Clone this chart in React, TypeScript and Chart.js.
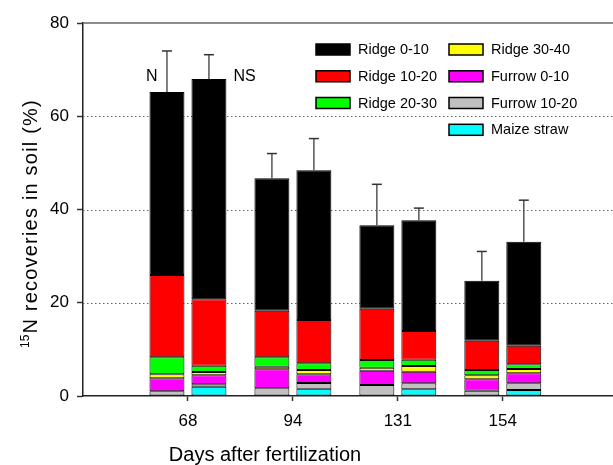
import React, { useEffect, useRef } from 'react';
import { Chart, registerables } from 'chart.js';

Chart.register(...registerables);

// ---- data ----
const days = ['68', '94', '131', '154'];
const treatmentLabels = ['N', 'NS'];
const seriesNames = ['Ridge 0-10', 'Ridge 10-20', 'Ridge 20-30', 'Ridge 30-40', 'Furrow 0-10', 'Furrow 10-20', 'Maize straw'];
const seriesColors = ['#000000', '#ff0000', '#00ff00', '#ffff00', '#ff00ff', '#c0c0c0', '#00ffff'];

// N treatment (left bar of each pair)
const ridge0_10N = [39.23, 28.4, 17.87, 12.83];
const ridge10_20N = [17.67, 10.0, 11.0, 6.29];
const ridge20_30N = [3.64, 2.01, 1.66, 1.14];
const ridge30_40N = [0.86, 0.56, 0.64, 0.86];
const furrow0_10N = [2.8, 4.08, 3.07, 2.44];
const furrow10_20N = [1.0, 1.65, 2.36, 1.14];

// NS treatment (right bar of each pair)
const ridge0_10NS = [47.25, 32.1, 23.75, 22.31];
const ridge10_20NS = [14.25, 9.29, 6.16, 3.99];
const ridge20_30NS = [1.35, 1.44, 1.35, 1.01];
const ridge30_40NS = [0.71, 0.92, 1.23, 0.92];
const furrow0_10NS = [1.93, 1.87, 2.48, 2.14];
const furrow10_20NS = [0.51, 1.22, 1.29, 1.44];
const maizeStrawNS = [2.0, 1.57, 1.44, 1.29];

// upper error bars
const errN = [8.8, 5.3, 8.8, 6.3];
const errNS = [5.2, 6.8, 2.6, 8.9];

const yTicks = [0, 20, 40, 60, 80];

const FONT = '"Liberation Sans", Arial, Helvetica, sans-serif';

const seriesN: (number[] | null)[] = [ridge0_10N, ridge10_20N, ridge20_30N, ridge30_40N, furrow0_10N, furrow10_20N, null];
const seriesNS: (number[] | null)[] = [ridge0_10NS, ridge10_20NS, ridge20_30NS, ridge30_40NS, furrow0_10NS, furrow10_20NS, maizeStrawNS];

const OFF = 0.2; // half spacing of the pair around the day position (x units)

function totals(series: (number[] | null)[]) {
  return days.map((_, i) => series.reduce((s, arr) => s + (arr ? arr[i] : 0), 0));
}

export default function App() {
  const ref = useRef<HTMLCanvasElement | null>(null);

  useEffect(() => {
    if (!ref.current) return;

    const datasets = seriesNames
      .map((name, k) => {
        const data: { x: number; y: number }[] = [];
        days.forEach((_, i) => {
          const n = seriesN[k];
          const ns = seriesNS[k];
          if (n) data.push({ x: i + 1 - OFF, y: n[i] });
          if (ns) data.push({ x: i + 1 + OFF, y: ns[i] });
        });
        return {
          label: name,
          data,
          backgroundColor: seriesColors[k],
          borderColor: '#000000',
          borderWidth: 1,
          borderSkipped: false as const,
          categoryPercentage: 1,
          barPercentage: 0.833,
        };
      })
      .reverse();

    const totN = totals(seriesN);
    const totNS = totals(seriesNS);

    const custom = {
      id: 'custom',
      beforeDatasetsDraw(chart: any) {
        const { ctx, chartArea, scales } = chart;
        const y = scales.y;
        ctx.save();
        ctx.strokeStyle = '#666';
        ctx.lineWidth = 1;
        ctx.setLineDash([1.5, 2.5]);
        [20, 40, 60].forEach((v) => {
          const py = Math.round(y.getPixelForValue(v)) + 0.5;
          ctx.beginPath();
          ctx.moveTo(chartArea.left, py);
          ctx.lineTo(chartArea.right, py);
          ctx.stroke();
        });
        ctx.setLineDash([]);
        ctx.strokeStyle = '#666';
        ctx.lineWidth = 1.5;
        const pt = y.getPixelForValue(80);
        ctx.beginPath();
        ctx.moveTo(chartArea.left, pt);
        ctx.lineTo(chartArea.right, pt);
        ctx.stroke();
        ctx.restore();
      },
      afterDatasetsDraw(chart: any) {
        const { ctx, scales } = chart;
        const x = scales.x;
        const y = scales.y;
        ctx.save();
        const drawErr = (xv: number, top: number, err: number) => {
          const px = x.getPixelForValue(xv);
          const p0 = y.getPixelForValue(top);
          const p1 = y.getPixelForValue(top + err);
          ctx.strokeStyle = '#555';
          ctx.lineWidth = 1.5;
          ctx.beginPath();
          ctx.moveTo(px, p0);
          ctx.lineTo(px, p1);
          ctx.stroke();
          ctx.strokeStyle = '#333';
          ctx.beginPath();
          ctx.moveTo(px - 5, p1);
          ctx.lineTo(px + 5, p1);
          ctx.stroke();
        };
        days.forEach((_, i) => {
          drawErr(i + 1 - OFF, totN[i], errN[i]);
          drawErr(i + 1 + OFF, totNS[i], errNS[i]);
        });

        // treatment labels
        ctx.fillStyle = '#000';
        ctx.font = `16px ${FONT}`;
        ctx.textBaseline = 'middle';
        ctx.textAlign = 'right';
        ctx.fillText(treatmentLabels[0], x.getPixelForValue(1 - OFF) - 9.5, y.getPixelForValue(68.4));
        ctx.textAlign = 'left';
        ctx.fillText(treatmentLabels[1], x.getPixelForValue(1 + OFF) + 24.5, y.getPixelForValue(68.4));

        // legend (two columns)
        const cols = [316, 449];
        const rows = [49.5, 76.3, 103, 129.8];
        ctx.font = `14.5px ${FONT}`;
        ctx.textAlign = 'left';
        ctx.textBaseline = 'middle';
        seriesNames.forEach((name, k) => {
          const col = k < 3 ? 0 : 1;
          const row = k < 3 ? k : k - 3;
          const bx = cols[col];
          const by = rows[row];
          ctx.fillStyle = seriesColors[k];
          ctx.fillRect(bx, by - 5.5, 34, 11);
          ctx.strokeStyle = '#000';
          ctx.lineWidth = 1.5;
          ctx.strokeRect(bx, by - 5.5, 34, 11);
          ctx.fillStyle = '#000';
          ctx.fillText(name, bx + 42, by + 0.5);
        });

        // x-axis title
        ctx.font = `20px ${FONT}`;
        ctx.textAlign = 'center';
        ctx.textBaseline = 'alphabetic';
        ctx.fillText('Days after fertilization', 265, 461);

        // y-axis title with superscript
        ctx.translate(37, 224);
        ctx.rotate(-Math.PI / 2);
        const main = 'N recoveries in soil (%)';
        const sup = '15';
        (ctx as any).letterSpacing = '1.2px';
        ctx.font = `20px ${FONT}`;
        const wMain = ctx.measureText(main).width;
        ctx.font = `12px ${FONT}`;
        (ctx as any).letterSpacing = '0px';
        const wSup = ctx.measureText(sup).width;
        const start = -(wMain + wSup) / 2;
        ctx.textAlign = 'left';
        ctx.fillText(sup, start, -8);
        (ctx as any).letterSpacing = '1.2px';
        ctx.font = `20px ${FONT}`;
        ctx.fillText(main, start + wSup + 1, 0);
        ctx.restore();
      },
    };

    const chart = new Chart(ref.current, {
      type: 'bar',
      data: { datasets: datasets as any },
      options: {
        animation: false,
        responsive: true,
        maintainAspectRatio: false,
        layout: { padding: { top: 23, right: 0, bottom: 0, left: 0 } },
        plugins: { legend: { display: false }, tooltip: { enabled: false } },
        scales: {
          x: {
            type: 'linear',
            stacked: true,
            offset: false,
            min: 0,
            max: 5.05,
            afterBuildTicks: (s: any) => {
              s.ticks = days.map((_, i) => ({ value: i + 1 }));
            },
            afterFit: (s: any) => {
              s.height = 69;
            },
            ticks: {
              callback: (v: any) => days[Number(v) - 1] ?? '',
              color: '#000',
              font: { family: FONT, size: 17 },
              padding: 10,
              maxRotation: 0,
              autoSkip: false,
            },
            grid: { display: true, offset: false, drawOnChartArea: false, drawTicks: true, tickLength: 5, tickColor: '#333', tickWidth: 1.5 },
            border: { display: true, color: '#222', width: 1.5 },
          },
          y: {
            type: 'linear',
            stacked: true,
            min: 0,
            max: 80,
            afterBuildTicks: (s: any) => {
              s.ticks = yTicks.map((v) => ({ value: v }));
            },
            afterFit: (s: any) => {
              s.width = 83;
            },
            ticks: {
              color: '#000',
              font: { family: FONT, size: 17 },
              padding: 8,
            },
            grid: { display: true, drawOnChartArea: false, drawTicks: true, tickLength: 6, tickColor: '#333', tickWidth: 1.5 },
            border: { display: true, color: '#222', width: 1.5 },
          },
        },
      },
      plugins: [custom],
    });

    return () => chart.destroy();
  }, []);

  return (
    <div style={{ position: 'fixed', left: 0, top: 0, width: 613, height: 465, background: '#fff' }}>
      <canvas ref={ref} />
    </div>
  );
}
